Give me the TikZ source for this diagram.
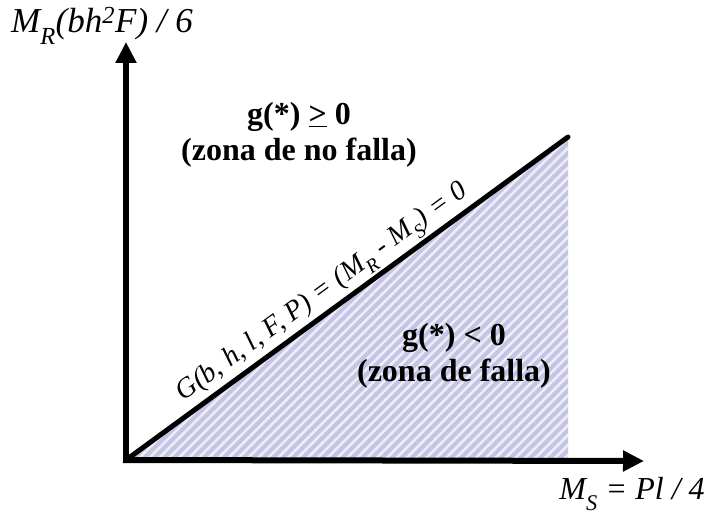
\documentclass[tikz,border=0pt]{standalone}
\usepackage{fontspec}
\setmainfont{Liberation Serif}
\usetikzlibrary{arrows.meta,patterns.meta}
\definecolor{lavanda}{RGB}{196,196,230}
\definecolor{raya}{RGB}{238,238,244}
\newcommand{\subi}[1]{\raisebox{-0.3ex}{\textsubscript{#1}}}

\begin{document}
\begin{tikzpicture}[x=1pt,y=-1pt,
  eje/.style={line width=6pt,-{Triangle[length=21pt,width=20pt]}},
  etiq/.style={font=\fontsize{35}{38}\selectfont\itshape},
  zona/.style={font=\fontsize{32}{36}\selectfont\bfseries,align=center},
  ecu/.style={font=\fontsize{28}{30}\selectfont\itshape}]
\useasboundingbox (0,0) rectangle (709,518);
\coordinate (O) at (126,460);
\coordinate (ytip) at (126,42);
\coordinate (xtip) at (644,461);
\coordinate (tope) at (568,137);
\coordinate (esq) at (568,461);
% zona de falla
\fill[lavanda] (O) -- (tope) -- (esq) -- cycle;
\fill[pattern={Lines[angle=45,distance=7pt,line width=2.6pt]},pattern color=raya] (O) -- (tope) -- (esq) -- cycle;
\draw[line width=5pt,line cap=round] (O) -- node[ecu,sloped,above,pos=0.47,inner sep=2pt] (G) {G(b, h, l, F, P) = (M\subi{R} - M\subi{S}) = 0} (tope);
% ejes
\draw[eje] ([yshift=3pt]O) -- (ytip);
\draw[eje] ([xshift=-3pt]O) -- (xtip);
\node[etiq] (MR) at (102,26) {M\subi{R}(bh\textsuperscript{2}F) / 6};
\node[etiq,font=\fontsize{32}{36}\selectfont\itshape] (MS) at (632,494) {M\subi{S} = Pl / 4};
\node[zona] (segura) at (299,135) {g(*) \underline{>} 0\\(zona de no falla)};
\node[zona] (falla) at (454,356) {g(*) < 0\\(zona de falla)};
\end{tikzpicture}
\end{document}
